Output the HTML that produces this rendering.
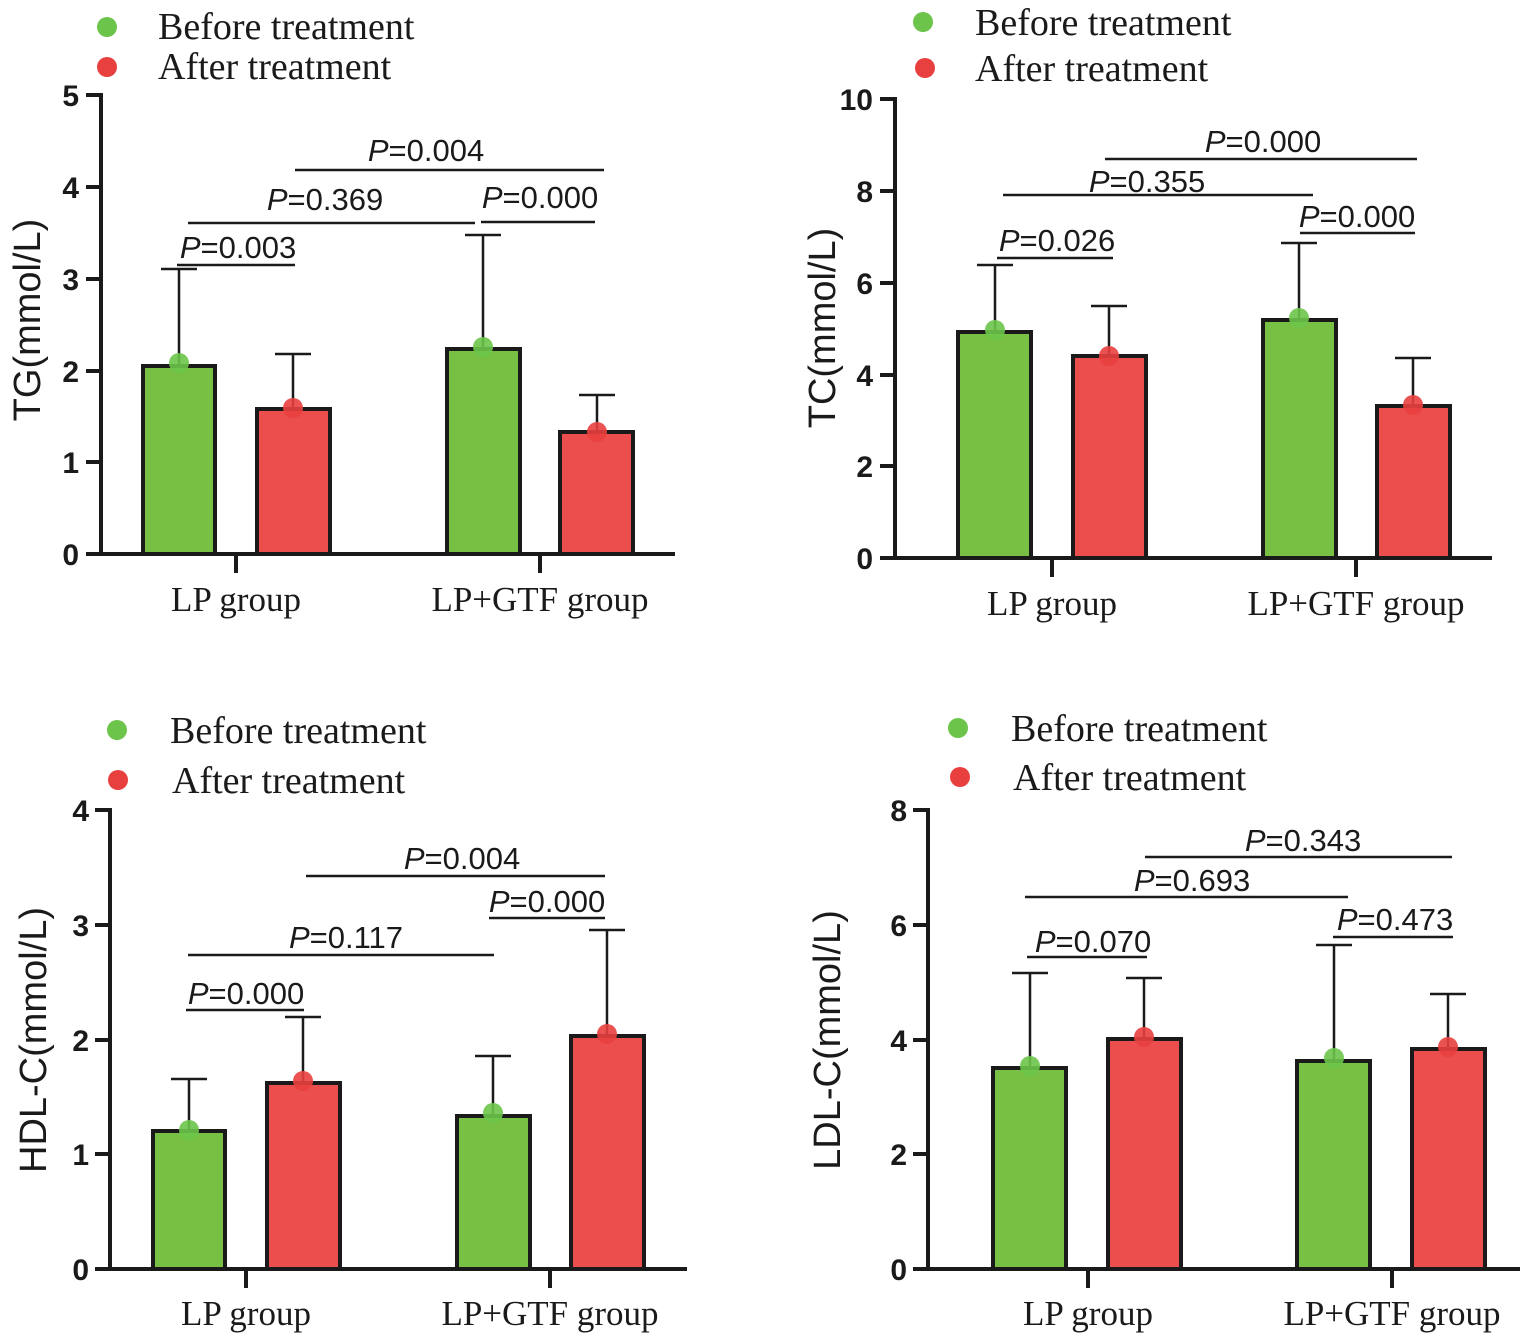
<!DOCTYPE html>
<html><head><meta charset="utf-8"><style>
html,body{margin:0;padding:0;background:#fff}
svg{display:block}
.t{font-family:"Liberation Sans",sans-serif;font-weight:bold;font-size:30px;fill:#1a1a1a}
.yl{font-family:"Liberation Sans",sans-serif;font-size:38px;fill:#1a1a1a}
.lg{font-family:"Liberation Serif",serif;font-size:38px;fill:#1a1a1a}
.cat{font-family:"Liberation Serif",serif;font-size:35px;fill:#1a1a1a}
.p{font-family:"Liberation Sans",sans-serif;font-size:31px;fill:#1a1a1a}
.ax{stroke:#1a1a1a;stroke-width:4;fill:none}
.ln{stroke:#1a1a1a;stroke-width:2.5;fill:none}
.g{fill:#77c043;stroke:#1a1a1a;stroke-width:4}
.r{fill:#ec4e4e;stroke:#1a1a1a;stroke-width:4}
.gd{fill:#6cc54a}
.rd{fill:#e8403f}
</style></head><body>
<svg width="1535" height="1340" viewBox="0 0 1535 1340" xmlns="http://www.w3.org/2000/svg">

<!-- Panel 1 TG -->
<circle cx="107" cy="27" r="10" class="gd"/><text x="158" y="39" class="lg">Before treatment</text>
<circle cx="107" cy="67" r="10" class="rd"/><text x="158" y="79" class="lg">After treatment</text>
<text class="yl" transform="translate(40,320) rotate(-90)" text-anchor="middle">TG(mmol/L)</text>
<g class="t" text-anchor="end">
<text x="79" y="106">5</text><text x="79" y="198">4</text><text x="79" y="290">3</text><text x="79" y="382">2</text><text x="79" y="473">1</text><text x="79" y="565">0</text></g>
<path class="ax" d="M101 93V554H675M86 95H101M86 187H101M86 279H101M86 371H101M86 462H101M86 554H101M236 554V573M540 554V573"/>
<path class="ln" d="M179 364V269M161 269H197M293 409V354M275 354H311M483 348V235M465 235H501M597 432V395M579 395H615"/>
<rect x="143" y="366" width="72" height="188" class="g"/>
<rect x="257" y="409" width="73" height="145" class="r"/>
<rect x="447" y="349" width="73" height="205" class="g"/>
<rect x="560" y="432" width="73" height="122" class="r"/>
<circle cx="179" cy="363" r="10" class="gd" opacity=".9"/><circle cx="293" cy="408" r="10" class="rd" opacity=".9"/>
<circle cx="483" cy="347" r="10" class="gd" opacity=".9"/><circle cx="597" cy="432" r="10" class="rd" opacity=".9"/>
<text x="236" y="611" class="cat" text-anchor="middle">LP group</text>
<text x="540" y="611" class="cat" text-anchor="middle">LP+GTF group</text>
<path class="ln" d="M177 265H295M188 223H475M481 222H595M295 170H604"/>
<g class="p" text-anchor="middle">
<text x="238" y="258"><tspan font-style="italic">P</tspan>=0.003</text>
<text x="325" y="210"><tspan font-style="italic">P</tspan>=0.369</text>
<text x="540" y="208"><tspan font-style="italic">P</tspan>=0.000</text>
<text x="426" y="161"><tspan font-style="italic">P</tspan>=0.004</text></g>

<!-- Panel 2 TC -->
<circle cx="923" cy="22" r="10" class="gd"/><text x="975" y="35" class="lg">Before treatment</text>
<circle cx="925" cy="68" r="10" class="rd"/><text x="975" y="81" class="lg">After treatment</text>
<text class="yl" transform="translate(835,328) rotate(-90)" text-anchor="middle">TC(mmol/L)</text>
<g class="t" text-anchor="end">
<text x="873" y="110">10</text><text x="873" y="202">8</text><text x="873" y="294">6</text><text x="873" y="386">4</text><text x="873" y="477">2</text><text x="873" y="569">0</text></g>
<path class="ax" d="M895 97V558H1492M880 99H895M880 191H895M880 283H895M880 375H895M880 466H895M880 558H895M1052 558V577M1356 558V577"/>
<path class="ln" d="M995 332V265M977 265H1013M1109 356V306M1091 306H1127M1299 320V243M1281 243H1317M1413 406V358M1395 358H1431"/>
<rect x="958" y="332" width="73" height="226" class="g"/>
<rect x="1073" y="356" width="73" height="202" class="r"/>
<rect x="1263" y="320" width="73" height="238" class="g"/>
<rect x="1377" y="406" width="73" height="152" class="r"/>
<circle cx="995" cy="330" r="10" class="gd" opacity=".9"/><circle cx="1109" cy="356" r="10" class="rd" opacity=".9"/>
<circle cx="1299" cy="318" r="10" class="gd" opacity=".9"/><circle cx="1413" cy="405" r="10" class="rd" opacity=".9"/>
<text x="1052" y="615" class="cat" text-anchor="middle">LP group</text>
<text x="1356" y="615" class="cat" text-anchor="middle">LP+GTF group</text>
<path class="ln" d="M997 258H1113M1003 195H1313M1300 233H1415M1105 159H1417"/>
<g class="p" text-anchor="middle">
<text x="1057" y="251"><tspan font-style="italic">P</tspan>=0.026</text>
<text x="1147" y="192"><tspan font-style="italic">P</tspan>=0.355</text>
<text x="1357" y="227"><tspan font-style="italic">P</tspan>=0.000</text>
<text x="1263" y="152"><tspan font-style="italic">P</tspan>=0.000</text></g>

<!-- Panel 3 HDL -->
<circle cx="117" cy="730" r="10" class="gd"/><text x="170" y="743" class="lg">Before treatment</text>
<circle cx="118" cy="780" r="10" class="rd"/><text x="172" y="793" class="lg">After treatment</text>
<text class="yl" transform="translate(46,1040) rotate(-90)" text-anchor="middle">HDL-C(mmol/L)</text>
<g class="t" text-anchor="end">
<text x="89" y="821">4</text><text x="89" y="936">3</text><text x="89" y="1051">2</text><text x="89" y="1165">1</text><text x="89" y="1280">0</text></g>
<path class="ax" d="M110 808V1269H687M95 810H110M95 925H110M95 1040H110M95 1154H110M95 1269H110M246 1269V1288M550 1269V1288"/>
<path class="ln" d="M189 1131V1079M171 1079H207M303 1083V1017M285 1017H321M493 1116V1056M475 1056H511M607 1036V930M589 930H625"/>
<rect x="153" y="1131" width="72" height="138" class="g"/>
<rect x="267" y="1083" width="73" height="186" class="r"/>
<rect x="457" y="1116" width="73" height="153" class="g"/>
<rect x="571" y="1036" width="73" height="233" class="r"/>
<circle cx="189" cy="1130" r="10" class="gd" opacity=".9"/><circle cx="303" cy="1081" r="10" class="rd" opacity=".9"/>
<circle cx="493" cy="1113" r="10" class="gd" opacity=".9"/><circle cx="607" cy="1034" r="10" class="rd" opacity=".9"/>
<text x="246" y="1325" class="cat" text-anchor="middle">LP group</text>
<text x="550" y="1325" class="cat" text-anchor="middle">LP+GTF group</text>
<path class="ln" d="M186 1010H304M188 955H494M489 918H605M306 876H605"/>
<g class="p" text-anchor="middle">
<text x="246" y="1004"><tspan font-style="italic">P</tspan>=0.000</text>
<text x="346" y="948"><tspan font-style="italic">P</tspan>=0.117</text>
<text x="547" y="912"><tspan font-style="italic">P</tspan>=0.000</text>
<text x="462" y="869"><tspan font-style="italic">P</tspan>=0.004</text></g>

<!-- Panel 4 LDL -->
<circle cx="958" cy="728" r="10" class="gd"/><text x="1011" y="741" class="lg">Before treatment</text>
<circle cx="960" cy="777" r="10" class="rd"/><text x="1013" y="790" class="lg">After treatment</text>
<text class="yl" transform="translate(840,1040) rotate(-90)" text-anchor="middle">LDL-C(mmol/L)</text>
<g class="t" text-anchor="end">
<text x="907" y="821">8</text><text x="907" y="936">6</text><text x="907" y="1051">4</text><text x="907" y="1165">2</text><text x="907" y="1280">0</text></g>
<path class="ax" d="M928 808V1269H1520M913 810H928M913 925H928M913 1040H928M913 1154H928M913 1269H928M1088 1269V1288M1392 1269V1288"/>
<path class="ln" d="M1030 1068V973M1012 973H1048M1144 1039V978M1126 978H1162M1334 1061V945M1316 945H1352M1448 1049V994M1430 994H1466"/>
<rect x="993" y="1068" width="73" height="201" class="g"/>
<rect x="1108" y="1039" width="73" height="230" class="r"/>
<rect x="1297" y="1061" width="73" height="208" class="g"/>
<rect x="1412" y="1049" width="73" height="220" class="r"/>
<circle cx="1030" cy="1066" r="10" class="gd" opacity=".9"/><circle cx="1144" cy="1037" r="10" class="rd" opacity=".9"/>
<circle cx="1334" cy="1058" r="10" class="gd" opacity=".9"/><circle cx="1448" cy="1047" r="10" class="rd" opacity=".9"/>
<text x="1088" y="1325" class="cat" text-anchor="middle">LP group</text>
<text x="1392" y="1325" class="cat" text-anchor="middle">LP+GTF group</text>
<path class="ln" d="M1027 957H1147M1025 897H1348M1333 937H1453M1145 857H1452"/>
<g class="p" text-anchor="middle">
<text x="1093" y="952"><tspan font-style="italic">P</tspan>=0.070</text>
<text x="1192" y="891"><tspan font-style="italic">P</tspan>=0.693</text>
<text x="1395" y="930"><tspan font-style="italic">P</tspan>=0.473</text>
<text x="1303" y="851"><tspan font-style="italic">P</tspan>=0.343</text></g>
</svg>
</body></html>
